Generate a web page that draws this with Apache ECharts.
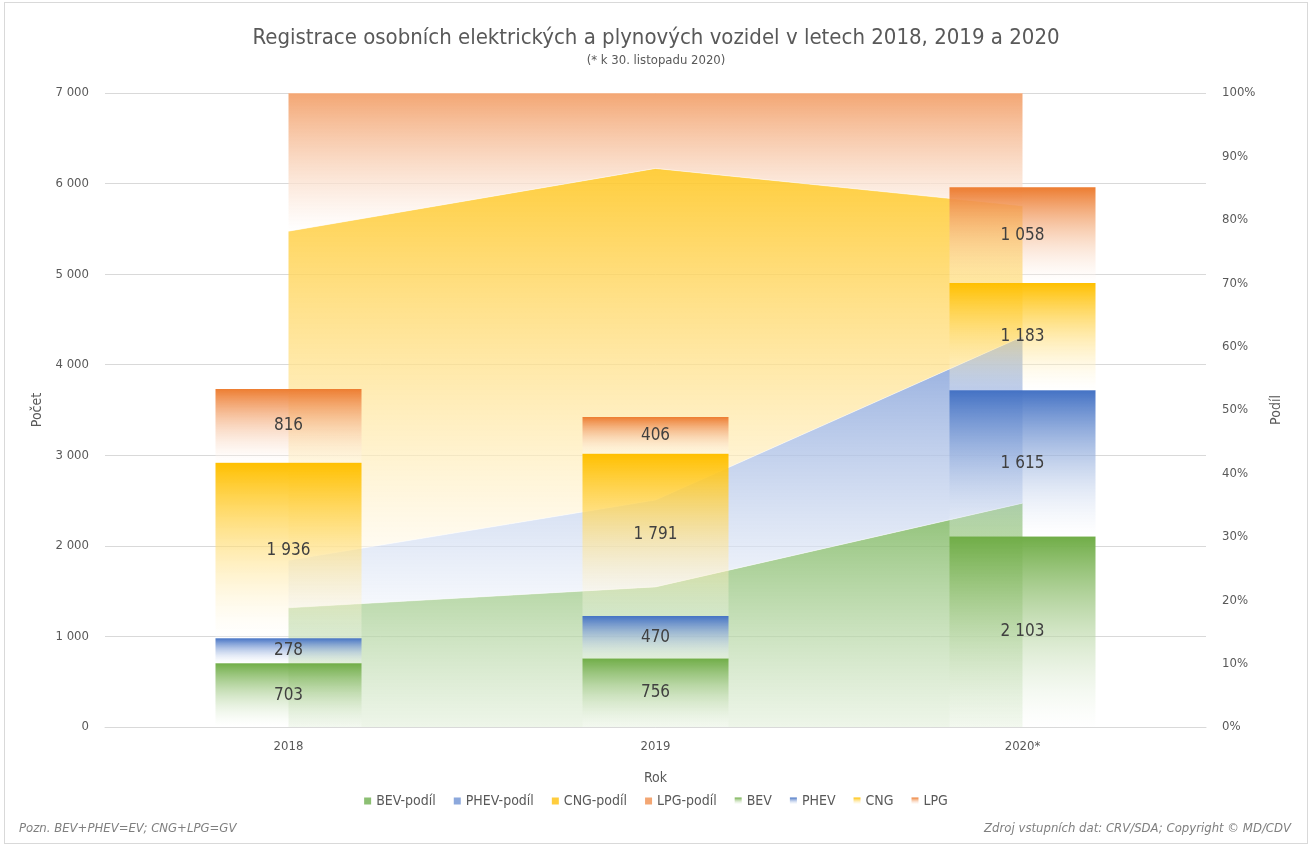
<!DOCTYPE html>
<html lang="cs">
<head>
    <meta charset="UTF-8">
    <title>Registrace vozidel</title>
    <script src="https://cdn.jsdelivr.net/npm/echarts@6/dist/echarts.min.js"></script>
    <style>
        html, body { margin: 0; padding: 0; background: #fff; }
        #chart { position: absolute; left: 4px; top: 2px; width: 1304px; height: 842px; border: 1px solid #d9d9d9; box-sizing: border-box; }
    </style>
</head>
<body>
<div id="chart"></div>
<script>
    var FONT = "'Liberation Sans Narrow', 'DejaVu Sans Condensed', sans-serif";

    var years = ['2018', '2019', '2020*'];
    // pocty registraci
    var bev  = [703, 756, 2103];
    var phev = [278, 470, 1615];
    var cng  = [1936, 1791, 1183];
    var lpg  = [816, 406, 1058];
    // podily v %
    var bevShare  = [18.8, 22.1, 35.3];
    var phevShare = [7.5, 13.7, 26.3];
    var cngShare  = [51.9, 52.3, 20.6];
    var lpgShare  = [21.8, 11.9, 17.8];

    var leftTicks = { min: 0, max: 7000, interval: 1000 };
    var rightTicks = { min: 0, max: 100, interval: 10 };

    function fmt(v) {
        return String(v).replace(/\B(?=(\d{3})+(?!\d))/g, ' ');
    }
    function grad(top, bottom) {
        return new echarts.graphic.LinearGradient(0, 0, 0, 1, [
            { offset: 0, color: top },
            { offset: 1, color: bottom }
        ]);
    }

    function areaSeries(name, data, top, bottom) {
        return {
            name: name,
            type: 'line',
            yAxisIndex: 1,
            stack: 'podil',
            data: data,
            showSymbol: false,
            symbol: 'none',
            z: 1,
            lineStyle: { width: 0.6, color: 'rgba(255,255,255,0.8)' },
            itemStyle: { color: top },
            areaStyle: { color: grad(top, bottom), opacity: 1 },
            emphasis: { disabled: true }
        };
    }

    function barSeries(name, data, top) {
        return {
            name: name,
            type: 'bar',
            stack: 'pocet',
            data: data,
            barWidth: 146,
            z: 3,
            itemStyle: { color: grad(top, 'rgba(255,255,255,0.25)') },
            label: {
                show: true,
                position: 'inside',
                color: '#404040',
                fontSize: 17,
                fontFamily: FONT,
                formatter: function (p) { return fmt(p.value); }
            },
            emphasis: { disabled: true }
        };
    }

    var chart = echarts.init(document.getElementById('chart'));
    chart.setOption({
        animation: false,
        textStyle: { fontFamily: FONT },
        title: {
            text: 'Registrace osobních elektrických a plynových vozidel v letech 2018, 2019 a 2020',
            subtext: '(* k 30. listopadu 2020)',
            left: 'center',
            top: 19,
            itemGap: 5,
            textStyle: { fontSize: 22, fontWeight: 'normal', color: '#595959', fontFamily: FONT },
            subtextStyle: { fontSize: 13, color: '#595959', fontFamily: FONT }
        },
        legend: {
            bottom: 30,
            left: 'center',
            itemWidth: 7,
            itemHeight: 7,
            itemGap: 18,
            icon: 'rect',
            textStyle: { fontSize: 14, color: '#595959', fontFamily: FONT },
            data: ['BEV-podíl', 'PHEV-podíl', 'CNG-podíl', 'LPG-podíl', 'BEV', 'PHEV', 'CNG', 'LPG']
        },
        graphic: [
            {
                type: 'text', left: 14, bottom: 8,
                style: { text: 'Pozn. BEV+PHEV=EV; CNG+LPG=GV', fill: '#7f7f7f', fontSize: 13, fontStyle: 'italic', fontFamily: FONT }
            },
            {
                type: 'text', right: 16, bottom: 8,
                style: { text: 'Zdroj vstupních dat: CRV/SDA; Copyright © MD/CDV', fill: '#7f7f7f', fontSize: 13, fontStyle: 'italic', fontFamily: FONT }
            }
        ],
        grid: { left: 100, right: 101, top: 90, bottom: 116 },
        xAxis: {
            type: 'category',
            data: years,
            name: 'Rok',
            nameLocation: 'middle',
            nameGap: 44,
            nameTextStyle: { fontSize: 14, color: '#595959' },
            axisLine: { lineStyle: { color: '#d9d9d9' } },
            axisTick: { show: false },
            axisLabel: { fontSize: 13, color: '#595959', margin: 13 }
        },
        yAxis: [
            {
                type: 'value',
                min: leftTicks.min, max: leftTicks.max, interval: leftTicks.interval,
                name: 'Počet',
                nameLocation: 'middle',
                nameRotate: 90,
                nameGap: 60,
                nameTextStyle: { fontSize: 14, color: '#595959' },
                axisLine: { show: false },
                axisTick: { show: false },
                axisLabel: { fontSize: 13, color: '#595959', margin: 16, formatter: fmt },
                splitLine: { lineStyle: { color: '#d9d9d9' } }
            },
            {
                type: 'value',
                min: rightTicks.min, max: rightTicks.max, interval: rightTicks.interval,
                name: 'Podíl',
                nameLocation: 'middle',
                nameRotate: 90,
                nameGap: 63,
                nameTextStyle: { fontSize: 14, color: '#595959' },
                axisLine: { show: false },
                axisTick: { show: false },
                axisLabel: { fontSize: 13, color: '#595959', margin: 16, formatter: '{value}%' },
                splitLine: { show: false }
            }
        ],
        series: [
            areaSeries('BEV-podíl', bevShare, 'rgba(120,180,90,0.85)', 'rgba(226,239,218,0.6)'),
            areaSeries('PHEV-podíl', phevShare, 'rgba(128,158,216,0.9)', 'rgba(240,244,251,0.6)'),
            areaSeries('CNG-podíl', cngShare, 'rgba(255,200,40,0.9)', 'rgba(255,250,238,0.6)'),
            areaSeries('LPG-podíl', lpgShare, 'rgba(243,166,115,1)', 'rgba(255,255,255,0.6)'),
            barSeries('BEV', bev, '#70ad47'),
            barSeries('PHEV', phev, '#4472c4'),
            barSeries('CNG', cng, '#ffc000'),
            barSeries('LPG', lpg, '#ed7d31')
        ]
    });
</script>
</body>
</html>
